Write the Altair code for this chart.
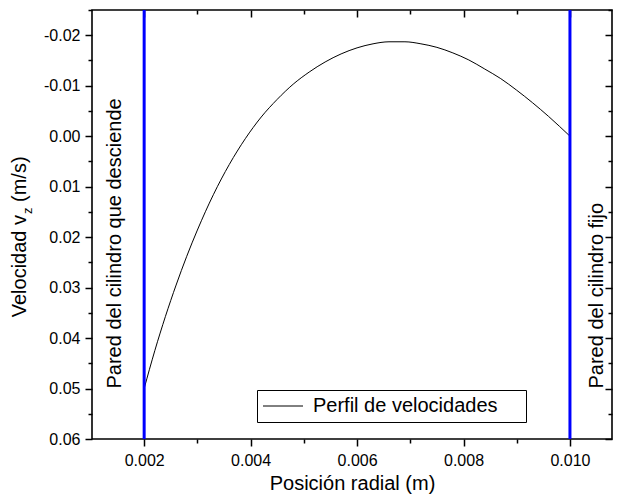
import altair as alt
import pandas as pd

# ---- data ----
r_vals = [0.0020, 0.0022, 0.0024, 0.0026, 0.0028, 0.0030, 0.0033, 0.0036, 0.0039, 0.0042,
          0.0045, 0.0048, 0.0051, 0.0054, 0.0057, 0.0060, 0.0063, 0.0066, 0.0069, 0.0072,
          0.0075, 0.0078, 0.0081, 0.0084, 0.0087, 0.0090, 0.0093, 0.0096, 0.0100]
v_vals = [0.0500, 0.0425, 0.0357, 0.0295, 0.0238, 0.0186, 0.0116, 0.0056, 0.0005, -0.0038,
          -0.0073, -0.0103, -0.0127, -0.0147, -0.0163, -0.0175, -0.0183, -0.0187, -0.0187, -0.0183,
          -0.0176, -0.0165, -0.0151, -0.0133, -0.0114, -0.0091, -0.0066, -0.0039, 0.0000]
series_name = "Perfil de velocidades"

wall_r = [0.002, 0.010]
wall_labels = ["Pared del cilindro que desciende", "Pared del cilindro fijo"]
wall_label_r = [0.00145, 0.0105]
wall_label_v = [0.05, 0.05]

x_major = [0.002, 0.004, 0.006, 0.008, 0.010]
x_minor = [0.003, 0.005, 0.007, 0.009]
y_major = [-0.02, -0.01, 0.0, 0.01, 0.02, 0.03, 0.04, 0.05, 0.06]
y_minor = [-0.025, -0.015, -0.005, 0.005, 0.015, 0.025, 0.035, 0.045, 0.055]

x_title = "Posición radial (m)"
y_title_parts = ["Velocidad v", "z", "(m/s)"]

FONT = "Liberation Sans"

df_curve = pd.DataFrame({"r": r_vals, "v": v_vals, "serie": [series_name] * len(r_vals)})
df_walls = pd.DataFrame({"r": wall_r})
df_labels = pd.DataFrame({"r": wall_label_r, "v": wall_label_v, "label": wall_labels})

xscale = alt.Scale(domain=[0.00102, 0.01079], nice=False, zero=False)
yscale = alt.Scale(domain=[-0.025, 0.06], nice=False, zero=False, reverse=True)

common = dict(domain=False, grid=False, tickColor="black", tickWidth=1.5)

bottom_major = alt.Axis(orient="bottom", values=x_major, tickSize=7, format=".3f",
                        labelFontSize=16, labelFont=FONT, labelColor="black", labelPadding=6,
                        title=x_title, titleFont=FONT, titleFontSize=20, titleFontWeight="normal",
                        titleColor="black", titleBaseline="alphabetic", titleY=50, **common)
bottom_minor = alt.Axis(orient="bottom", values=x_minor, tickSize=4, labels=False, title=None, **common)
left_major = alt.Axis(orient="left", values=y_major, tickSize=7,
                      labelExpr="replace(format(datum.value, '.2f'), '−', '-')",
                      labelFontSize=16, labelFont=FONT, labelColor="black", labelPadding=5,
                      title=None, **common)
left_minor = alt.Axis(orient="left", values=y_minor, tickSize=4, labels=False, title=None, **common)
top_major = alt.Axis(orient="top", values=x_major, tickSize=7, offset=-7, labels=False, title=None, **common)
top_minor = alt.Axis(orient="top", values=x_minor, tickSize=4, offset=-4, labels=False, title=None, **common)
right_major = alt.Axis(orient="right", values=y_major, tickSize=7, offset=-7, labels=False, title=None, **common)
right_minor = alt.Axis(orient="right", values=y_minor, tickSize=4, offset=-4, labels=False, title=None, **common)

base = alt.Chart(df_curve)

curve = base.mark_line(strokeWidth=1, interpolate="monotone").encode(
    x=alt.X("r:Q", scale=xscale, axis=bottom_major),
    y=alt.Y("v:Q", scale=yscale, axis=left_major),
    color=alt.Color("serie:N", scale=alt.Scale(range=["black"]),
                    legend=alt.Legend(orient="none", legendX=165, legendY=380, title=None,
                                      labelFontSize=20, labelFont=FONT, labelColor="black",
                                      labelLimit=600,
                                      symbolType="M-2,0H6", symbolSize=100, symbolStrokeWidth=1,
                                      symbolStrokeColor="black", labelOffset=30,
                                      strokeColor="black", fillColor="white", padding=6,
                                      labelExpr="datum.label + '\u00a0\u00a0\u00a0\u00a0\u200b'")),
)

def axis_layer(ax_x, ax_y):
    return base.mark_line(strokeOpacity=0).encode(
        x=alt.X("r:Q", scale=xscale, axis=ax_x),
        y=alt.Y("v:Q", scale=yscale, axis=ax_y),
    )

walls = alt.Chart(df_walls).mark_rule(color="#0000ff", strokeWidth=3).encode(
    x=alt.X("r:Q", scale=xscale, axis=None)
)

wall_text = alt.Chart(df_labels).mark_text(angle=270, align="left", baseline="middle",
                                           fontSize=20, font=FONT, color="black").encode(
    x=alt.X("r:Q", scale=xscale, axis=None),
    y=alt.Y("v:Q", scale=yscale, axis=None),
    text="label:N",
)

df_yt = pd.DataFrame({"t": y_title_parts})
yt1 = alt.Chart(df_yt).transform_filter(alt.datum.t == y_title_parts[0]).mark_text(
    angle=270, align="right", baseline="alphabetic", fontSize=20, font=FONT, color="black"
).encode(x=alt.value(-66), y=alt.value(205), text="t:N")
yt2 = alt.Chart(df_yt).transform_filter(alt.datum.t == y_title_parts[1]).mark_text(
    angle=270, align="left", baseline="alphabetic", fontSize=13, font=FONT, color="black", dy=6, dx=1
).encode(x=alt.value(-66), y=alt.value(205), text="t:N")
yt3 = alt.Chart(df_yt).transform_filter(alt.datum.t == y_title_parts[2]).mark_text(
    angle=270, align="left", baseline="alphabetic", fontSize=20, font=FONT, color="black", dx=13
).encode(x=alt.value(-66), y=alt.value(205), text="t:N")

chart = alt.layer(
    curve,
    axis_layer(bottom_minor, left_minor),
    axis_layer(top_major, right_major),
    axis_layer(top_minor, right_minor),
    walls,
    wall_text,
    yt1, yt2, yt3,
).resolve_axis(x="independent", y="independent").properties(
    width=520, height=429,
    padding={"left": 84, "top": 2, "right": 1, "bottom": 55},
    autosize=alt.AutoSizeParams(type="none"),
    background="white",
).configure_view(stroke="black", strokeWidth=1.6)

chart.save("out.html", embed_options={"renderer": "svg", "actions": False})
